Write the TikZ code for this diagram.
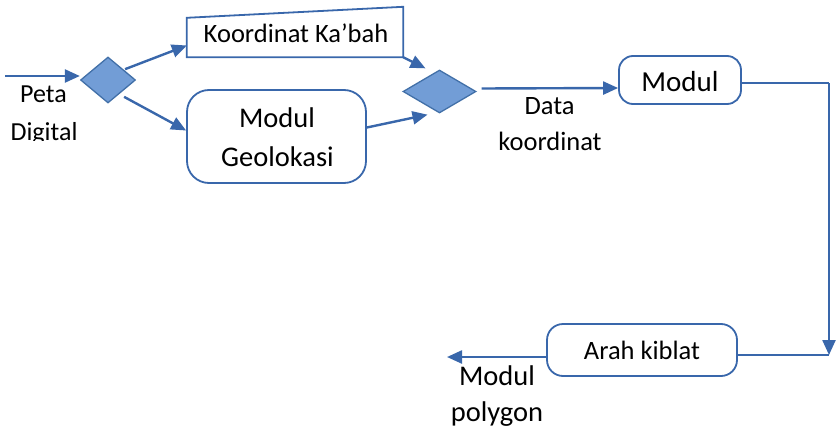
\documentclass[tikz,border=0pt]{standalone}
\usepackage{fontspec}
\setmainfont{Carlito}
\usetikzlibrary{shapes.geometric,arrows.meta}
\definecolor{flowline}{RGB}{57,103,171}
\definecolor{gatefill}{RGB}{114,157,214}
\definecolor{gateline}{RGB}{66,112,168}
\tikzset{
  txt/.style={anchor=base, inner sep=0pt, font=\fontsize{#1}{#1}\selectfont},
  txt/.default=26.5,
  roundbox/.style={draw=flowline, line width=1.8pt, rounded corners=14pt, fill=white, inner sep=0pt},
  gate/.style={diamond, draw=gateline, fill=gatefill, line width=1.3pt, inner sep=0pt},
  flow/.style={draw=flowline, line width=2.4pt},
  flowarrow/.style={flow, -{Triangle[length=15pt,width=13pt]}}
}
\begin{document}
\begin{tikzpicture}[x=1pt,y=-1pt]
\useasboundingbox (0,0) rectangle (840,428);

% input label, cut off at its lower edge
\begin{scope}
  \clip (0,0) rectangle (200,140);
  \node[txt=26] (peta) at (43.5,102) {Peta};
  \node[txt=26] (digital) at (44,140) {Digital};
\end{scope}
\coordinate (start) at (5,76);

% branching gate and the two parallel stages
\node[gate, minimum width=55pt, minimum height=46pt] (d1) at (108,80) {};
\node[inner sep=0pt, minimum width=216pt, minimum height=39pt] (kab) at (295,37.5) {};
\draw[draw=flowline, line width=1.8pt, fill=white]
  (kab.south west) -- (kab.north west) -- ([yshift=11pt]kab.north east)
  -- (kab.south east) -- cycle;
\node[txt] (kabtext) at (296,43) {Koordinat Ka’bah};
\node[roundbox, minimum width=179pt, minimum height=93pt, rounded corners=22pt]
  (geo) at (276.5,136.5) {};
\node[txt=28.5] (geo1) at (277,127) {Modul};
\node[txt=28.5] (geo2) at (277.5,166) {Geolokasi};

% joining gate
\node[gate, minimum width=73pt, minimum height=43pt] (d2) at (439.5,91.5) {};

% downstream modules
\node[roundbox, minimum width=122pt, minimum height=48pt] (modul) at (680,80) {};
\node[txt=29] (modultext) at (680,92) {Modul};
\node[roundbox, minimum width=190pt, minimum height=52pt, rounded corners=16pt]
  (arah) at (642,350) {};
\node[txt] (arahtext) at (642,359) {Arah kiblat};

\node[txt] (data1) at (549.5,114) {Data};
\node[txt] (data2) at (550,150) {koordinat};
\node[txt=28.5] (poly1) at (497,385) {Modul};
\node[txt=28.5] (poly2) at (497,421) {polygon};

\coordinate (c1) at (829,83);
\coordinate (c2) at (829,355);
\coordinate (out) at (447,357);

% connectors
\draw[flowarrow] (start) -- ([yshift=4pt]d1.west);
\draw[flowarrow] ([shift={(3pt,-1pt)}]d1.north east) -- ([yshift=-8pt]kab.west);
\draw[flowarrow] ([shift={(2pt,-5pt)}]d1.south east) -- ([yshift=6pt]geo.west);
\draw[flowarrow] (kab.south east) -- ([shift={(-14pt,1pt)}]d2.north);
\draw[flowarrow] ([yshift=9pt]geo.east) -- ([shift={(-12pt,-1pt)}]d2.south);
\draw[flowarrow] ([shift={(5pt,3pt)}]d2.east) -- ([yshift=-8pt]modul.west);
\draw[flow] ([yshift=-3pt]modul.east) -- (c1);
\draw[flowarrow] (c1) -- (c2);
\draw[flow] ([yshift=-5pt]arah.east) -- (c2);
\draw[flowarrow] ([yshift=-7pt]arah.west) -- (out);
\end{tikzpicture}
\end{document}
